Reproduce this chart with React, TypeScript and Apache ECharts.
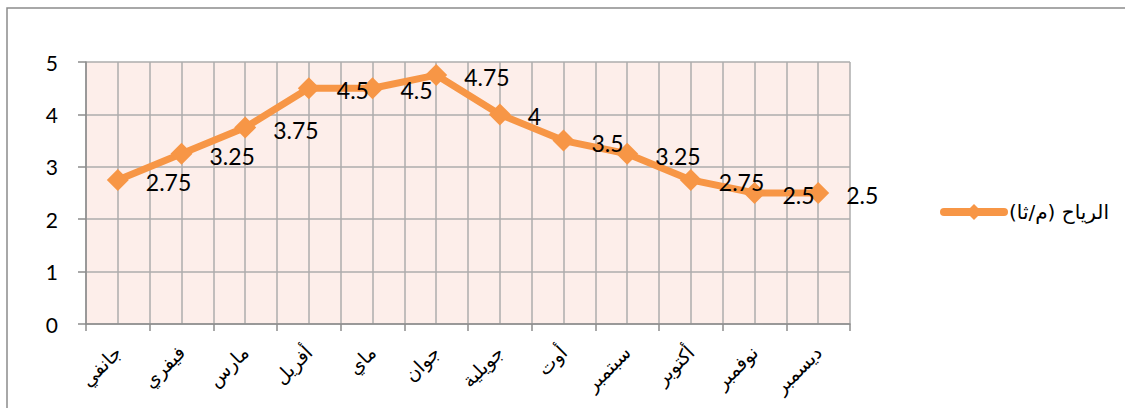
import React, { useEffect, useRef } from "react";
import * as echarts from "echarts";

const categories = [
  "جانفي", "فيفري", "مارس", "أفريل", "ماي", "جوان",
  "جويلية", "أوت", "سبتمبر", "أكتوبر", "نوفمبر", "ديسمبر",
];
const windValues = [2.75, 3.25, 3.75, 4.5, 4.5, 4.75, 4, 3.5, 3.25, 2.75, 2.5, 2.5];
const seriesName = "الرياح (م/ثا)";
const yTicks = [0, 1, 2, 3, 4, 5];

export default function App() {
  const ref = useRef<HTMLDivElement>(null);
  useEffect(() => {
    if (!ref.current) return;
    const chart = echarts.init(ref.current, undefined, { renderer: "svg" });
    const gridColor = "#ADADAD";
    chart.setOption({
      animation: false,
      backgroundColor: "#ffffff",
      textStyle: { fontFamily: "Lato, 'DejaVu Sans', sans-serif" },
      graphic: [
        {
          type: "rect",
          shape: { x: 7, y: 8, width: 1400, height: 1000 },
          style: { fill: "none", stroke: "#8C8C8C", lineWidth: 1.5 },
          silent: true,
        },
      ],
      grid: {
        left: 86,
        right: 275,
        top: 62,
        bottom: 84,
        show: true,
        backgroundColor: "#FDEEEA",
        borderWidth: 0,
      },
      legend: {
        left: 935,
        top: 197,
        itemWidth: 60,
        itemHeight: 20,
        lineStyle: { width: 8, cap: "round" },
        textStyle: { fontSize: 20, color: "#000", fontFamily: "'DejaVu Sans', sans-serif" },
        data: [seriesName],
      },
      xAxis: [
        {
          type: "category",
          data: categories,
          boundaryGap: true,
          axisLine: { show: true, lineStyle: { color: "#8C8C8C", width: 1.5 } },
          axisTick: { show: true, length: 7, alignWithLabel: false, lineStyle: { color: "#8C8C8C", width: 1.5 } },
          splitLine: { show: false },
          axisLabel: {
            rotate: 45,
            margin: 25,
            fontSize: 19,
            color: "#000",
            fontFamily: "'DejaVu Sans', sans-serif",
            interval: 0,
          },
          z: 3,
        },
        {
          type: "value",
          min: 0,
          max: 24,
          interval: 1,
          position: "bottom",
          axisLine: { show: false },
          axisTick: { show: false },
          axisLabel: { show: false },
          splitLine: { show: true, lineStyle: { color: gridColor, width: 1.5 } },
        },
      ],
      yAxis: {
        type: "value",
        min: yTicks[0],
        max: yTicks[yTicks.length - 1],
        interval: 1,
        axisLine: { show: true, lineStyle: { color: "#8C8C8C", width: 1.5 } },
        axisTick: { show: true, length: 8, lineStyle: { color: "#8C8C8C", width: 1.5 } },
        splitLine: { show: true, lineStyle: { color: gridColor, width: 1.5 } },
        axisLabel: { fontSize: 21, color: "#000", margin: 28 },
      },
      series: [
        {
          name: seriesName,
          type: "line",
          xAxisIndex: 0,
          data: windValues,
          symbol: "diamond",
          symbolSize: 22,
          lineStyle: { color: "#F79646", width: 7 },
          itemStyle: { color: "#F79646" },
          label: {
            show: true,
            position: "right",
            distance: 17,
            offset: [0, 2],
            fontSize: 23,
            color: "#000",
            fontFamily: "Lato, sans-serif",
          },
          z: 5,
        },
      ],
    });
    return () => chart.dispose();
  }, []);
  return (
    <div
      ref={ref}
      style={{ position: "fixed", left: 0, top: 0, width: 1125, height: 408 }}
    />
  );
}
